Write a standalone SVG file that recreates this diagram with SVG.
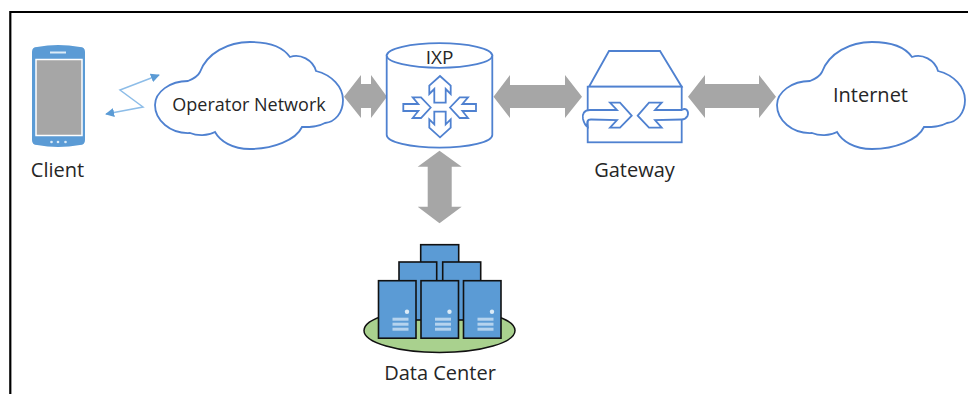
<svg xmlns="http://www.w3.org/2000/svg" width="968" height="394" viewBox="0 0 968 394">
<style>
text{font-family:"Open Sans","Noto Sans","Liberation Sans",sans-serif;font-size:20px;fill:#262626;text-anchor:middle}
text.m{font-size:18px}
.o{fill:#fff;stroke:#4f81d0;stroke-width:1.8;stroke-linejoin:miter}
.g{fill:#a6a6a6;stroke:none}
.s{fill:#5b9bd5;stroke:#111;stroke-width:1.6}
.l{fill:#b5d3ee}
</style>
<defs>
<path id="cloud" d="M188 81C193 79 198 76 200 72C207 53 228 42 250 42C268 42 283 47 290 57C300 53 313 60 316 71C332 75 343 87 343 100C343 113 335 122 325 123C318 127 310 127 302 127C296 140 273 149 250 149C232 149 220 141 215 132C208 136 197 136 190 133C170 134 155 120 155 105C155 92 170 81 188 81Z"/>
<marker id="h" viewBox="0 0 10 10" refX="9" refY="5" markerWidth="9" markerHeight="9" markerUnits="userSpaceOnUse" orient="auto-start-reverse"><path d="M0 0L10 5L0 10Z" fill="#5b9bd5"/></marker>
<g id="server"><rect x="0" y="0" width="37.500" height="57.500" class="s"/><circle cx="28.500" cy="31" r="2.200" fill="#dcebf7"/><rect class="l" x="14" y="37" width="16" height="3"/><rect class="l" x="14" y="42" width="16" height="3"/><rect class="l" x="14" y="47" width="16" height="3"/></g>
</defs>
<rect width="968" height="394" fill="#fff"/>
<path d="M10.300 394V12H968" fill="none" stroke="#000" stroke-width="2.200"/>
<g id="connectors">
<path class="g" d="M344 96.700L361 75V84H371V75L387 96.700L371 118V108H361V118Z"/>
<path class="g" d="M493.500 96.700L510 75V85H565V75L582 96.700L565 118V108H510V118Z"/>
<path class="g" d="M688 96.700L705 75V84H759V75L776 96.700L759 118V108H705V118Z"/>
<path class="g" d="M439.500 150.700L461.700 166.700H451.700V206.700H461.700L439.500 223.300L417.700 206.700H427.700V166.700H417.700Z"/>
<path d="M159 75L120 90L143 107L106 114" fill="none" stroke="#8dbde8" stroke-width="1.500" marker-start="url(#h)" marker-end="url(#h)"/>
</g>
<g id="client">
<path d="M32 52Q32 47 37 47Q58 43 80 47Q85 47 85 52V140Q85 145 80 145Q58 149 37 145Q32 145 32 140Z" fill="#5b9bd5"/>
<rect x="36" y="59.500" width="46" height="76" fill="#a6a6a6" stroke="#fff" stroke-width="1.500"/>
<rect x="50" y="51.500" width="16" height="2" fill="#dcebf7"/>
<circle cx="51.500" cy="142" r="1.300" fill="#dcebf7"/><circle cx="58" cy="142" r="1.300" fill="#dcebf7"/><circle cx="65.500" cy="142" r="1.300" fill="#dcebf7"/>
<text x="57.500" y="177">Client</text>
</g>
<g id="operator-network">
<use href="#cloud" class="o"/>
<text class="m" x="249" y="111">Operator Network</text>
</g>
<g id="ixp">
<path class="o" d="M386.700 55.500V135C386.700 142 410 147.700 439.500 147.700S492.300 142 492.300 135V55.500Z"/>
<ellipse class="o" cx="439.500" cy="55.500" rx="52.800" ry="12.300"/>
<text x="439.500" y="64" style="font-size:19px">IXP</text>
<path class="o" d="M440 76L450.700 85.700V94L445.700 89V102.700H434.300V89L429.300 94V85.700Z"/>
<path class="o" d="M440 137.300L450.700 127.600V119.300L445.700 124.300V111.700H434.300V124.300L429.300 119.300V127.600Z"/>
<path class="o" d="M430.700 107.500L421 97.300H412.700L418.300 104H403.300V111H418.300L412.700 118H421Z"/>
<path class="o" d="M450 107.500L459.700 97.300H468L462.400 104H476V111H462.400L468 118H459.700Z"/>
</g>
<g id="gateway">
<path class="o" d="M589 86.700L609 51H660L681.700 86.700Z"/>
<rect class="o" x="587.700" y="86.700" width="94" height="55.600"/>
<path class="o" d="M631.700 115.700L620 102.700H610L617 110H590C584 110 582 114 583 119C584 123 586 126 587.700 127C586.500 122 587 119.500 591 119.500L617 120L610 127.700H620Z"/>
<path class="o" d="M637.700 115.700L649 102.700H661.700L655 110H681.700C687 107 689 112 687.500 116C686 118.500 683 119.500 681.700 119.500L655 120L661.700 127.700H649Z"/>
<text x="634.500" y="177">Gateway</text>
</g>
<g id="internet">
<use href="#cloud" class="o" x="622"/>
<text x="870.500" y="102">Internet</text>
</g>
<g id="data-center">
<ellipse cx="439.500" cy="330.500" rx="75.500" ry="22" fill="#a9d18e" stroke="#111" stroke-width="1.500"/>
<rect class="s" x="420.700" y="244.700" width="38" height="45"/>
<rect class="s" x="399" y="262" width="37.700" height="58"/>
<rect class="s" x="442.700" y="262" width="38" height="58"/>
<use href="#server" x="378.500" y="280.700"/>
<use href="#server" x="421" y="280.700"/>
<use href="#server" x="463.500" y="280.700"/>
<text x="440" y="380">Data Center</text>
</g>
</svg>
